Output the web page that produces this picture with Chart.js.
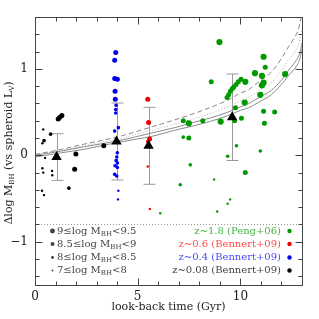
<!doctype html>
<html>
<head>
<meta charset="utf-8">
<title>BH mass offset vs look-back time</title>
<script src="https://cdn.jsdelivr.net/npm/chart.js@4.4.1/dist/chart.umd.min.js"></script>
<style>
  html, body { margin: 0; padding: 0; background: #fff; }
  #box { width: 319px; height: 319px; }
</style>
</head>
<body>
<div id="box"><canvas id="bhChart" width="319" height="319"></canvas></div>
<script>
// z~0.08 (Bennert+09): look-back time, offset, log M_BH bin
var z008Time = [1.13, 1.21, 1.31, 0.40, 0.76, 0.44, 0.36, 0.49, 1.99, 3.35, 1.93, 0.36, 0.40, 0.83, 0.84, 1.65, 0.34, 0.44];
var z008Off  = [0.42, 0.44, 0.46, 0.30, 0.245, 0.17, 0.14, -0.03, 0.015, 0.11, -0.16, -0.15, -0.20, -0.18, -0.23, -0.38, -0.41, -0.46];
var z008Bin  = [8.75, 8.75, 8.75, 7.5, 8.25, 8.25, 7.5, 7.5, 8.75, 8.75, 8.75, 7.5, 7.5, 7.5, 7.5, 8.25, 7.5, 7.5];

// z~0.4 (Bennert+09)
var z04Time = [3.93, 3.88, 3.88, 4.01, 3.90, 3.91, 3.95, 3.93, 3.93, 3.88, 4.06, 4.01, 3.98, 3.95, 4.01, 3.90, 4.01, 3.88, 3.98, 4.06, 4.04];
var z04Off  = [1.19, 1.10, 0.89, 0.88, 0.74, 0.65, 0.58, 0.53, 0.49, 0.28, 0.32, 0.03, -0.02, -0.06, -0.09, -0.12, -0.14, -0.22, -0.24, -0.41, -0.51];
var z04Bin  = [8.75, 8.75, 8.75, 8.75, 8.75, 8.75, 8.25, 8.25, 8.25, 8.25, 8.25, 8.25, 8.25, 8.25, 8.25, 8.25, 8.25, 8.25, 8.25, 7.5, 7.5];

// z~0.6 (Bennert+09)
var z06Time = [5.49, 5.53, 5.58, 5.49, 5.49, 5.59];
var z06Off  = [0.65, 0.38, 0.19, 0.16, -0.13, -0.62];
var z06Bin  = [8.75, 8.75, 8.75, 8.25, 7.5, 7.5];

// z~1.8 (Peng+06)
var z18Time = [8.98, 11.13, 11.21, 10.71, 11.05, 12.18, 8.58, 10.24, 9.35, 9.43, 9.51, 9.60, 9.68, 9.79, 9.90, 10.03,
               11.13, 11.05, 10.97, 10.21, 9.76, 11.13, 11.67, 10.05, 9.04, 11.17, 8.17, 7.49, 7.22, 9.72, 7.22, 7.49,
               9.81, 10.97, 9.38, 7.56, 10.24, 8.72, 7.07, 9.50, 9.38, 8.87, 6.10];
var z18Off  = [1.31, 1.14, 1.02, 0.95, 0.92, 0.94, 0.85, 0.85, 0.67, 0.70, 0.74, 0.77, 0.79, 0.82, 0.85, 0.88,
               0.84, 0.81, 0.70, 0.61, 0.55, 0.51, 0.50, 0.43, 0.39, 0.37, 0.40, 0.37, 0.40, 0.40, 0.21, 0.20,
               0.11, 0.05, -0.01, -0.11, -0.20, -0.28, -0.34, -0.51, -0.56, -0.65, -0.67];
var z18Bin  = [9.25, 9.25, 8.75, 9.25, 9.25, 9.25, 8.75, 9.25, 8.75, 8.75, 8.75, 8.75, 8.75, 8.75, 8.75, 8.75,
               9.25, 9.25, 9.25, 9.25, 8.75, 8.75, 8.75, 8.75, 9.25, 8.75, 8.75, 9.25, 8.75, 8.75, 8.25, 8.75,
               8.25, 8.25, 8.25, 8.25, 8.75, 7.5, 8.25, 7.5, 7.5, 7.5, 7.5];

// sample means and scatter
var meanTime = [1.05, 3.97, 5.53, 9.60];
var meanOff  = [-0.02, 0.16, 0.11, 0.44];
var meanErr  = [0.27, 0.445, 0.445, 0.50];

// evolution curves
var curveTime   = [0, 1.3, 2.4, 3.4, 4.3, 5.0, 5.7, 6.8, 7.7, 8.5, 9.4, 10.0, 10.4, 11.0, 11.5, 12.0, 12.3, 12.6, 12.8, 12.9, 13.0];
var curveSolidA = [-0.02, 0.03, 0.07, 0.12, 0.16, 0.19, 0.22, 0.29, 0.34, 0.39, 0.46, 0.52, 0.55, 0.63, 0.70, 0.82, 0.91, 0.99, 1.06, 1.12, 1.23];
var curveSolidB = [0.00, 0.05, 0.10, 0.14, 0.18, 0.22, 0.26, 0.32, 0.38, 0.43, 0.50, 0.56, 0.60, 0.68, 0.75, 0.87, 0.97, 1.06, 1.13, 1.19, 1.30];
var curveDotted = [0.00, 0.06, 0.11, 0.16, 0.20, 0.25, 0.29, 0.36, 0.42, 0.48, 0.56, 0.63, 0.67, 0.76, 0.84, 0.98, 1.09, 1.18, 1.26, 1.34, 1.46];
var curveDashed = [0.01, 0.07, 0.13, 0.18, 0.23, 0.28, 0.33, 0.41, 0.48, 0.55, 0.64, 0.72, 0.76, 0.87, 0.96, 1.12, 1.24, 1.35, 1.44, 1.53, 1.66];

var limitOff = -0.8;
var xTicks = [0, 5, 10];
var yTicks = [-1, 0, 1];

var binLabels = [['9≤log M', 'BH', '<9.5'], ['8.5≤log M', 'BH', '<9'], ['8≤log M', 'BH', '<8.5'], ['7≤log M', 'BH', '<8']];
var binValues = [9.25, 8.75, 8.25, 7.5];
var sampleNames = ['z~1.8 (Peng+06)', 'z~0.6 (Bennert+09)', 'z~0.4 (Bennert+09)', 'z~0.08 (Bennert+09)'];
var sampleColors = ['#009a00', '#ee0000', '#0000ee', '#000000'];
var sampleText = ['#45b545', '#ff4a4a', '#4a4aff', '#444444'];

var FONT = '"DejaVu Serif", serif';

function radiusOf(bin) {
    if (bin >= 9) return 3.1;
    if (bin >= 8.5) return 2.5;
    if (bin >= 8) return 1.8;
    return 1.2;
}
function pts(xs, ys) {
    return xs.map(function (x, i) { return { x: x, y: ys[i] }; });
}
function sampleSet(xs, ys, bins, color) {
    return {
        type: 'scatter', data: pts(xs, ys),
        backgroundColor: color, borderWidth: 0,
        pointRadius: bins.map(radiusOf), pointHoverRadius: bins.map(radiusOf)
    };
}
function curveSet(ys, color, dash) {
    return {
        type: 'line', data: pts(curveTime, ys),
        borderColor: color, borderWidth: 1, borderDash: dash,
        pointRadius: 0, fill: false, cubicInterpolationMode: 'monotone'
    };
}

// draw a string with subscript parts: [normal, sub, normal, ...]
function richText(ctx, parts, x, y, size, align) {
    var big = size + 'px ' + FONT, small = Math.round(size * 0.65) + 'px ' + FONT;
    var w = 0;
    parts.forEach(function (p, i) { ctx.font = (i % 2) ? small : big; w += ctx.measureText(p).width; });
    var cx = align === 'right' ? x - w : (align === 'center' ? x - w / 2 : x);
    ctx.textAlign = 'left';
    ctx.textBaseline = 'middle';
    parts.forEach(function (p, i) {
        ctx.font = (i % 2) ? small : big;
        ctx.fillText(p, cx, (i % 2) ? y + size * 0.3 : y);
        cx += ctx.measureText(p).width;
    });
}

var decor = {
    id: 'decor',
    beforeDatasetsDraw: function (chart) {
        var ctx = chart.ctx, xs = chart.scales.x, ys = chart.scales.y, a = chart.chartArea;
        ctx.save();
        // magnitude limit line
        ctx.strokeStyle = '#999';
        ctx.lineWidth = 1;
        ctx.setLineDash([1, 2]);
        var ly = Math.round(ys.getPixelForValue(limitOff)) + 0.5;
        ctx.beginPath(); ctx.moveTo(a.left, ly); ctx.lineTo(a.right, ly); ctx.stroke();
        ctx.setLineDash([]);
        // error bars on the means
        ctx.strokeStyle = '#9a9a9a';
        meanTime.forEach(function (t, i) {
            var px = Math.round(xs.getPixelForValue(t)) + 0.5;
            var top = ys.getPixelForValue(meanOff[i] + meanErr[i]);
            var bot = ys.getPixelForValue(meanOff[i] - meanErr[i]);
            ctx.beginPath();
            ctx.moveTo(px, top); ctx.lineTo(px, bot);
            ctx.moveTo(px - 6, top); ctx.lineTo(px + 6, top);
            ctx.moveTo(px - 6, bot); ctx.lineTo(px + 6, bot);
            ctx.stroke();
        });
        ctx.restore();
    },
    afterDraw: function (chart) {
        var ctx = chart.ctx, xs = chart.scales.x, ys = chart.scales.y, a = chart.chartArea;
        ctx.save();
        // frame and inward ticks
        ctx.strokeStyle = '#444';
        ctx.lineWidth = 1;
        var L = Math.round(a.left) + 0.5, R = Math.round(a.right) + 0.5;
        var T = Math.round(a.top) + 0.5, B = Math.round(a.bottom) + 0.5;
        ctx.strokeRect(L, T, R - L, B - T);
        ctx.beginPath();
        for (var k = 0; k <= 13; k++) {
            var px = Math.round(xs.getPixelForValue(k)) + 0.5;
            var len = (k % 5 === 0) ? 7 : 4;
            ctx.moveTo(px, B); ctx.lineTo(px, B - len);
            ctx.moveTo(px, T); ctx.lineTo(px, T + len);
        }
        for (var j = -7; j <= 8; j++) {
            var py = Math.round(ys.getPixelForValue(j * 0.2)) + 0.5;
            var len2 = (j % 5 === 0) ? 7 : 4;
            ctx.moveTo(L, py); ctx.lineTo(L + len2, py);
            ctx.moveTo(R, py); ctx.lineTo(R - len2, py);
        }
        ctx.stroke();

        // y axis title
        ctx.fillStyle = '#222';
        ctx.translate(9, (a.top + a.bottom) / 2 + 2);
        ctx.rotate(-Math.PI / 2);
        richText(ctx, ['Δlog M', 'BH', ' (vs spheroid L', 'V', ')'], 0, 0, 11, 'center');
        ctx.setTransform(1, 0, 0, 1, 0, 0);

        // mass-bin key
        var rows = [231, 244, 257.5, 270.5];
        ctx.fillStyle = '#444';
        binLabels.forEach(function (parts, i) {
            ctx.beginPath();
            ctx.arc(52.5, rows[i], radiusOf(binValues[i]) * 0.8, 0, Math.PI * 2);
            ctx.fill();
            richText(ctx, parts, 57, rows[i], 10, 'left');
        });
        // sample key
        sampleNames.forEach(function (name, i) {
            ctx.fillStyle = sampleText[i];
            richText(ctx, [name], 281, rows[i], 10, 'right');
            ctx.fillStyle = sampleColors[i];
            ctx.beginPath();
            ctx.arc(289.5, rows[i], 2.2, 0, Math.PI * 2);
            ctx.fill();
        });
        ctx.restore();
    }
};

new Chart(document.getElementById('bhChart'), {
    type: 'scatter',
    data: {
        datasets: [
            {
                type: 'scatter', data: pts(meanTime, meanOff),
                backgroundColor: '#000', borderColor: '#000', borderWidth: 0,
                pointStyle: 'triangle', pointRadius: 6, pointHoverRadius: 6
            },
            sampleSet(z008Time, z008Off, z008Bin, sampleColors[3]),
            sampleSet(z04Time, z04Off, z04Bin, sampleColors[2]),
            sampleSet(z06Time, z06Off, z06Bin, sampleColors[1]),
            sampleSet(z18Time, z18Off, z18Bin, sampleColors[0]),
            curveSet(curveSolidA, '#8a8a8a', []),
            curveSet(curveSolidB, '#8a8a8a', []),
            curveSet(curveDotted, '#b0b0b0', [1, 2]),
            curveSet(curveDashed, '#888888', [5, 3])
        ]
    },
    options: {
        responsive: false,
        animation: false,
        layout: { padding: { left: 0, right: 17, top: 17, bottom: 0 } },
        plugins: { legend: { display: false }, tooltip: { enabled: false } },
        scales: {
            x: {
                type: 'linear', min: 0, max: 13,
                grid: { display: false, drawTicks: false },
                border: { display: false },
                afterBuildTicks: function (s) { s.ticks = xTicks.map(function (v) { return { value: v }; }); },
                afterFit: function (s) { s.height = 34; },
                ticks: { padding: 5, color: '#222', maxRotation: 0, font: { family: FONT, size: 12 } },
                title: { display: true, text: 'look-back time (Gyr)', color: '#222', font: { family: FONT, size: 11 }, padding: { top: 0, bottom: 5 } }
            },
            y: {
                type: 'linear', min: -1.5, max: 1.6,
                grid: { display: false, drawTicks: false },
                border: { display: false },
                afterBuildTicks: function (s) { s.ticks = yTicks.map(function (v) { return { value: v }; }); },
                afterFit: function (s) { s.width = 35; },
                ticks: {
                    padding: 7, color: '#222', font: { family: FONT, size: 12 },
                    callback: function (v) { return String(v).replace('-', '−'); }
                }
            }
        }
    },
    plugins: [decor]
});
</script>
</body>
</html>
